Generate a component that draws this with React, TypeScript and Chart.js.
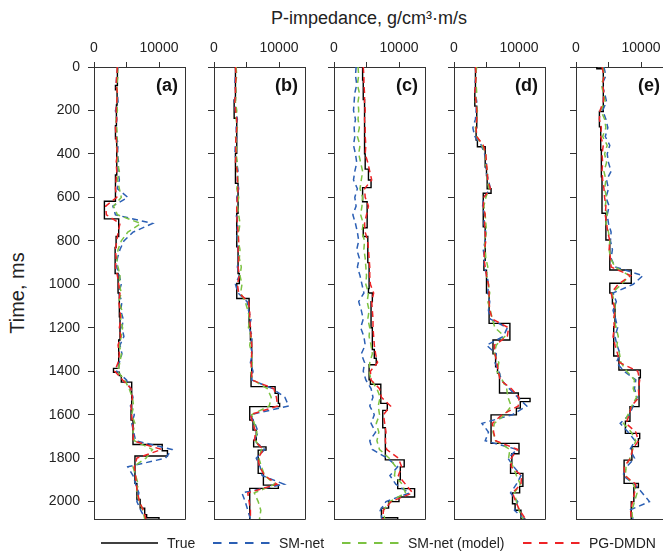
import React, { useEffect, useRef } from 'react';
import { Chart, registerables } from 'chart.js';

Chart.register(...registerables);

// ---------------- data ----------------
const panelLabels = ['(a)', '(b)', '(c)', '(d)', '(e)'];
const seriesNames = ['True', 'SM-net', 'SM-net (model)', 'PG-DMDN'];
const xTickValues = [0, 5000, 10000];
const xTickLabels = ['0', '', '10000'];
const yTickValues = [0, 200, 400, 600, 800, 1000, 1200, 1400, 1600, 1800, 2000];

const predTimes = [
  0, 40, 80, 120, 160, 200, 240, 280, 320, 360, 400, 440, 480,
  520, 560, 600, 640, 680, 720, 760, 800, 840, 880, 920, 960, 1000,
  1040, 1080, 1120, 1160, 1200, 1240, 1280, 1320, 1360, 1400, 1440, 1480, 1520,
  1560, 1600, 1640, 1680, 1720, 1760, 1800, 1840, 1880, 1920, 1960, 2000, 2040, 2080,
];

// (a)
const trueTimeA = [0, 85, 105, 175, 270, 330, 497, 618, 699, 780, 830, 950, 1040, 1150, 1256, 1387, 1405, 1420, 1450, 1578, 1625, 1737, 1766, 1790, 1916, 1990, 2030, 2060, 2074, 2080];
const trueValA = [3600, 3300, 3550, 3450, 3300, 3500, 3300, 1600, 3800, 3400, 3250, 3700, 3900, 4000, 3800, 3000, 3900, 4200, 5800, 5700, 6000, 10500, 11300, 6300, 6600, 7100, 7800, 8100, 10000, 10000];
const smNetA = [
  3700, 3500, 3400, 3600, 3700, 3300, 3500, 3400, 3500, 3700, 3600, 3800, 3700,
  3900, 3600, 5200, 2900, 3300, 9000, 6000, 4600, 4000, 3600, 3500, 3900, 4200,
  3800, 4300, 4100, 4500, 4300, 4600, 4000, 4300, 3900, 3500, 5000, 5600, 6000,
  5600, 6200, 5800, 6100, 6400, 12000, 11000, 5200, 6000, 6400, 6900, 6600, 7200, 7900,
];
const smModelA = [
  3600, 3700, 3500, 3600, 3500, 3600, 3400, 3500, 3600, 3400, 3700, 3600, 3900,
  3600, 3900, 4200, 3000, 3600, 7200, 5200, 4200, 3700, 3500, 3700, 4000, 3900,
  4200, 3800, 4300, 4100, 4400, 4200, 3900, 4200, 4000, 3600, 4700, 5400, 5900,
  6100, 5800, 6300, 6000, 6200, 9000, 8000, 6000, 6400, 6800, 6500, 7000, 7500, 7800,
];
const pgDmdnA = [
  3600, 3500, 3400, 3600, 3500, 3400, 3500, 3300, 3400, 3500, 3600, 3400, 3500,
  3400, 3300, 3500, 1800, 1900, 4000, 3700, 3500, 3300, 3400, 3300, 3600, 3800,
  4000, 3800, 4000, 4100, 3900, 4100, 3700, 3900, 3700, 3200, 4400, 5700, 5900,
  5700, 5800, 5900, 6100, 6000, 10400, 6600, 6200, 6400, 6500, 6700, 7000, 7600, 8000,
];

// (b)
const trueTimeB = [0, 152, 236, 397, 535, 673, 827, 950, 996, 1065, 1195, 1256, 1410, 1471, 1502, 1548, 1563, 1625, 1671, 1717, 1748, 1763, 1870, 1924, 1939, 2080];
const trueValB = [3300, 3100, 3500, 3300, 3700, 3500, 3700, 3900, 3500, 5400, 5600, 5800, 5700, 9400, 9900, 10100, 5500, 6000, 6500, 6100, 8000, 6800, 7600, 9900, 5500, 5500];
const smNetB = [
  3400, 3300, 3200, 3400, 3100, 3300, 3600, 3400, 3500, 3300, 3200, 3500, 3700,
  3600, 3800, 3500, 3600, 3400, 3700, 3500, 3600, 3700, 3800, 3600, 3900, 3300,
  3700, 5100, 5300, 5700, 5400, 5900, 5600, 5900, 5600, 6000, 5800, 9000, 10900,
  11500, 5600, 6300, 6800, 6200, 7800, 6500, 7100, 7400, 10800, 4300, 4800, 5200, 5600,
];
const smModelB = [
  3400, 3500, 3300, 3400, 3300, 3500, 3400, 3600, 3300, 3500, 3400, 3600, 3500,
  3700, 3500, 3800, 3600, 3800, 4000, 3800, 3700, 4000, 3900, 4200, 4000, 4300,
  4100, 4800, 5200, 5500, 5300, 5700, 5500, 5800, 5900, 5600, 6000, 8200, 8800,
  8500, 5800, 6200, 6600, 6400, 7300, 6900, 7300, 7800, 9400, 6200, 6800, 7200, 7000,
];
const pgDmdnB = [
  3300, 3400, 3300, 3300, 3200, 3300, 3500, 3500, 3400, 3300, 3400, 3300, 3600,
  3600, 3700, 3600, 3500, 3500, 3600, 3700, 3800, 3700, 3800, 3700, 3900, 3600,
  3800, 5300, 5500, 5500, 5600, 5700, 5800, 5800, 5700, 5800, 5800, 9200, 9600,
  9800, 5600, 6000, 6400, 6200, 7600, 6800, 7000, 7800, 9700, 5200, 5400, 5600, 5600,
];

// (c)
const trueTimeC = [0, 60, 150, 400, 470, 520, 555, 620, 740, 780, 900, 1020, 1040, 1080, 1200, 1300, 1340, 1370, 1440, 1460, 1548, 1580, 1660, 1808, 1840, 1900, 1940, 1979, 2000, 2030, 2074, 2080];
const trueValC = [4400, 4500, 4700, 4800, 5300, 5700, 4400, 5100, 4500, 5200, 5400, 5300, 5900, 5700, 5900, 6200, 6500, 5400, 5600, 7200, 8200, 7500, 7900, 10800, 10200, 9800, 12400, 10000, 8400, 7300, 9800, 9800];
const smNetC = [
  3400, 3300, 3500, 3200, 3100, 3000, 3300, 3100, 3200, 3000, 3300, 3500, 3200,
  3000, 3600, 3200, 3400, 2900, 3300, 3600, 3800, 3500, 3900, 3600, 4000, 4300,
  4600, 3800, 4200, 4500, 4100, 4600, 4800, 4200, 4700, 4500, 4900, 5700, 6000,
  5500, 6200, 5700, 6400, 5500, 5900, 8200, 9800, 8600, 9500, 11600, 8000, 7100, 7400,
];
const smModelC = [
  3700, 3800, 3600, 3900, 3700, 3800, 3700, 3900, 3600, 4000, 3800, 4100, 4400,
  4200, 4000, 4400, 4300, 4100, 4500, 4300, 4700, 4600, 4800, 4900, 5000, 4900,
  5300, 5100, 5400, 5200, 5500, 5400, 5700, 5900, 5500, 5400, 5700, 6600, 7100,
  6800, 7000, 6500, 6900, 6600, 7000, 8500, 9500, 9300, 10500, 11000, 8600, 7600, 7800,
];
const pgDmdnC = [
  4500, 4600, 4600, 4700, 4700, 4800, 4700, 4800, 4800, 4900, 4800, 5200, 5500,
  5800, 4700, 4800, 5300, 5000, 4700, 4800, 5200, 5300, 5400, 5500, 5500, 5600,
  6100, 5800, 5900, 6000, 6000, 6100, 6200, 6400, 6700, 5600, 5700, 7000, 7300,
  8700, 7600, 7800, 8000, 7900, 8100, 9900, 10400, 9900, 11000, 12100, 8800, 7600, 7500,
];

// (d)
const trueTimeD = [0, 106, 180, 280, 336, 367, 460, 500, 560, 581, 735, 890, 935, 1040, 1180, 1256, 1320, 1380, 1410, 1500, 1525, 1540, 1570, 1601, 1732, 1780, 1830, 1870, 1930, 1960, 2010, 2040, 2080];
const trueValD = [3300, 3200, 3500, 3400, 3600, 4800, 5000, 5100, 5700, 4500, 4800, 4600, 5000, 5400, 8600, 6000, 6400, 6700, 7000, 9900, 11700, 10200, 9600, 5700, 10000, 8900, 8700, 10600, 10100, 9000, 9400, 10300, 11000];
const smNetD = [
  3300, 3400, 3200, 3300, 3500, 3400, 3300, 2900, 3200, 4200, 4700, 5000, 4900,
  5300, 5600, 4600, 4400, 4700, 4600, 4900, 4800, 4500, 4700, 4600, 5100, 5300,
  5200, 5500, 5300, 5600, 8200, 7600, 5000, 6500, 6300, 6900, 7300, 8500, 9800,
  11200, 9000, 4300, 5300, 4800, 9700, 8300, 9200, 10300, 9600, 8700, 9800, 9300, 10800,
];
const smModelD = [
  3500, 3300, 3400, 3500, 3300, 3600, 3500, 3300, 3500, 4300, 4900, 4800, 5200,
  5100, 5400, 4900, 4600, 4800, 4900, 5000, 4700, 4800, 4900, 5200, 5000, 5300,
  5500, 5200, 5600, 5900, 6300, 7800, 6500, 6200, 6900, 6600, 7400, 8100, 8300,
  8800, 7800, 6200, 6000, 6400, 8600, 8400, 9100, 9600, 10200, 9300, 9600, 10000, 10600,
];
const pgDmdnD = [
  3300, 3400, 3300, 3200, 3400, 3500, 3500, 3400, 3500, 4500, 4900, 5000, 5100,
  5200, 5600, 4600, 4500, 4800, 4700, 4800, 4900, 4700, 4600, 4800, 5000, 5300,
  5400, 5400, 5500, 5900, 8400, 8200, 6200, 6300, 6600, 6800, 7100, 8800, 10000,
  9900, 7400, 5900, 6100, 6400, 9800, 8800, 8800, 10400, 10300, 9000, 9500, 10100, 11000,
];

// (e)
const trueTimeE = [0, 8, 205, 275, 382, 505, 673, 796, 934, 995, 1040, 1090, 1195, 1330, 1394, 1430, 1563, 1630, 1686, 1710, 1747, 1809, 1916, 1935, 2000, 2080];
const trueValE = [3200, 4200, 3600, 3800, 3900, 4000, 4600, 5200, 8500, 5200, 5600, 6000, 5800, 6600, 9900, 9700, 8300, 7600, 9800, 9600, 8600, 7400, 9600, 8900, 8500, 8500];
const smNetE = [
  4300, 4600, 4000, 4400, 4700, 4100, 4600, 4900, 4500, 5200, 4800, 5000, 5400,
  4700, 5000, 4600, 5100, 4800, 5000, 5400, 5300, 5600, 5400, 6000, 10300, 8800,
  5700, 6200, 5700, 6100, 6400, 6000, 6300, 6800, 6200, 7400, 9200, 9000, 9400,
  8800, 8200, 6800, 8000, 9100, 8300, 9000, 7800, 7200, 9000, 10200, 11300, 8200, 8800,
];
const smModelE = [
  4100, 4400, 3900, 4200, 4500, 3800, 4400, 4600, 4100, 4800, 4400, 4700, 4300,
  4600, 4400, 4700, 4500, 4800, 4600, 5000, 5200, 5100, 5300, 6000, 8200, 7000,
  5500, 5900, 6100, 5800, 6200, 6500, 6300, 6700, 6900, 7800, 9000, 8800, 9300,
  8600, 8000, 7300, 8500, 9200, 8700, 8300, 7700, 7600, 8800, 9400, 9000, 8600, 8700,
];
const pgDmdnE = [
  4000, 4300, 4100, 4300, 4200, 3700, 3600, 3900, 3800, 4200, 4000, 4100, 4000,
  4100, 4300, 4400, 4600, 4500, 4700, 4900, 5200, 5100, 5300, 5400, 8400, 6500,
  5400, 5700, 6000, 5800, 5900, 5700, 6000, 6400, 6700, 9500, 9800, 9600, 9700,
  8500, 8200, 7700, 9200, 9600, 8700, 8400, 7400, 7500, 9200, 9000, 8700, 8400, 8500,
];

// ---------------- style / layout ----------------
const FONT = "'Liberation Sans', Arial, Helvetica, sans-serif";
const TEXT = '#222222';
const AXIS = '#333333';
const COLORS = ['#000000', '#2b5fb4', '#7cc242', '#ee2326'];
const panelLeft = [94, 214, 334, 454, 576];
const PLOT_W = 91;
const PLOT_H = 452;
const CANVAS_TOP = 20;
const TOP_H = 47;
const AXIS_W = 60;
const PAD_R = 4;
const PAD_B = 22;
const X_MAX = 14000;
const Y_MAX = 2080;

const panels = [
  { tt: trueTimeA, tv: trueValA, sm: smNetA, smm: smModelA, pg: pgDmdnA },
  { tt: trueTimeB, tv: trueValB, sm: smNetB, smm: smModelB, pg: pgDmdnB },
  { tt: trueTimeC, tv: trueValC, sm: smNetC, smm: smModelC, pg: pgDmdnC },
  { tt: trueTimeD, tv: trueValD, sm: smNetD, smm: smModelD, pg: pgDmdnD },
  { tt: trueTimeE, tv: trueValE, sm: smNetE, smm: smModelE, pg: pgDmdnE },
];

const framePlugin = {
  id: 'panelFrame',
  afterDatasetsDraw(chart: any) {
    const { ctx, chartArea } = chart;
    const r = Math.round(chartArea.right - 0.5) + 0.5;
    const b = Math.round(chartArea.bottom - 0.5) + 0.5;
    const l = Math.round(chartArea.left - 0.5) + 0.5;
    const t = Math.round(chartArea.top - 0.5) + 0.5;
    ctx.save();
    ctx.strokeStyle = AXIS;
    ctx.lineWidth = 1;
    ctx.setLineDash([]);
    ctx.beginPath();
    ctx.moveTo(l, b);
    ctx.lineTo(r, b);
    ctx.lineTo(r, t);
    ctx.stroke();
    ctx.restore();
  },
};

function Panel({ idx }: { idx: number }) {
  const ref = useRef<HTMLCanvasElement | null>(null);
  const width = AXIS_W + PLOT_W + PAD_R;
  const height = TOP_H + PLOT_H + PAD_B;

  useEffect(() => {
    if (!ref.current) return;
    const p = panels[idx];
    const pts = (ts: number[], vs: number[]) => ts.map((t, i) => ({ x: vs[i], y: t }));
    const dash = [6, 4];
    const chart = new Chart(ref.current, {
      type: 'line',
      data: {
        datasets: [
          { label: seriesNames[0], data: pts(p.tt, p.tv), borderColor: COLORS[0], borderWidth: 1.4, stepped: 'after', order: 4, pointRadius: 0, fill: false },
          { label: seriesNames[1], data: pts(predTimes, p.sm), borderColor: COLORS[1], borderWidth: 1.5, borderDash: dash, order: 3, pointRadius: 0, fill: false },
          { label: seriesNames[2], data: pts(predTimes, p.smm), borderColor: COLORS[2], borderWidth: 1.5, borderDash: dash, order: 2, pointRadius: 0, fill: false },
          { label: seriesNames[3], data: pts(predTimes, p.pg), borderColor: COLORS[3], borderWidth: 1.5, borderDash: dash, order: 1, pointRadius: 0, fill: false },
        ] as any,
      },
      options: {
        responsive: false,
        maintainAspectRatio: false,
        animation: false,
        events: [],
        layout: { padding: { left: 0, top: 0, right: PAD_R, bottom: PAD_B } },
        plugins: { legend: { display: false }, tooltip: { enabled: false }, title: { display: false } },
        elements: { point: { radius: 0 }, line: { tension: 0 } },
        scales: {
          x: {
            type: 'linear',
            position: 'top',
            min: 0,
            max: X_MAX,
            afterBuildTicks: (s: any) => { s.ticks = xTickValues.map((v) => ({ value: v })); },
            afterFit: (s: any) => { s.height = TOP_H; },
            ticks: {
              autoSkip: false,
              maxRotation: 0,
              padding: 5,
              color: TEXT,
              font: { family: FONT, size: 14 },
              callback: (v: any) => { const k = xTickValues.indexOf(Number(v)); return k >= 0 ? xTickLabels[k] : ''; },
            },
            grid: { drawOnChartArea: false, drawTicks: true, tickLength: 5, color: AXIS, lineWidth: 1 },
            border: { display: true, color: AXIS, width: 1 },
          },
          y: {
            type: 'linear',
            position: 'left',
            reverse: true,
            min: 0,
            max: Y_MAX,
            afterBuildTicks: (s: any) => { s.ticks = yTickValues.map((v) => ({ value: v })); },
            afterFit: (s: any) => { s.width = AXIS_W; },
            ticks: {
              display: idx === 0,
              autoSkip: false,
              padding: 8,
              color: TEXT,
              font: { family: FONT, size: 14 },
              callback: (v: any) => String(v),
            },
            grid: { drawOnChartArea: false, drawTicks: true, tickLength: 6, color: AXIS, lineWidth: 1 },
            border: { display: true, color: AXIS, width: 1 },
          },
        },
      } as any,
      plugins: [framePlugin],
    });
    return () => chart.destroy();
  }, [idx]);

  return (
    <canvas
      ref={ref}
      width={width}
      height={height}
      style={{ position: 'absolute', left: panelLeft[idx] - AXIS_W, top: CANVAS_TOP, width, height }}
    />
  );
}

const legendLeft = [101, 213, 342, 523];

export default function App() {
  return (
    <div
      style={{
        position: 'absolute', left: 0, top: 0, width: 663, height: 555, overflow: 'hidden',
        background: '#ffffff', fontFamily: FONT, color: TEXT,
      }}
    >
      <div style={{ position: 'absolute', left: 369, top: 8, transform: 'translateX(-50%)', fontSize: 18, lineHeight: '20px', whiteSpace: 'nowrap' }}>
        P-impedance, g/cm³·m/s
      </div>
      <div style={{ position: 'absolute', left: 17, top: 293, transform: 'translate(-50%, -50%) rotate(-90deg)', fontSize: 20, lineHeight: '20px', whiteSpace: 'nowrap' }}>
        Time, ms
      </div>
      {panels.map((_, i) => <Panel key={i} idx={i} />)}
      {panelLabels.map((lab, i) => (
        <div key={lab} style={{ position: 'absolute', left: panelLeft[i], top: 75, width: 84, textAlign: 'right', fontSize: 18, fontWeight: 'bold', lineHeight: '20px', color: '#111' }}>
          {lab}
        </div>
      ))}
      {seriesNames.map((name, i) => (
        <React.Fragment key={name}>
          <svg width={57} height={4} style={{ position: 'absolute', left: legendLeft[i], top: 540.5 }}>
            <line x1={0} y1={2} x2={57} y2={2} stroke={COLORS[i]} strokeWidth={i === 0 ? 1.5 : 1.8} strokeDasharray={i === 0 ? undefined : '8.5 7.5'} />
          </svg>
          <div style={{ position: 'absolute', left: legendLeft[i] + 66, top: 535, fontSize: 14, lineHeight: '16px', whiteSpace: 'nowrap' }}>
            {name}
          </div>
        </React.Fragment>
      ))}
    </div>
  );
}
